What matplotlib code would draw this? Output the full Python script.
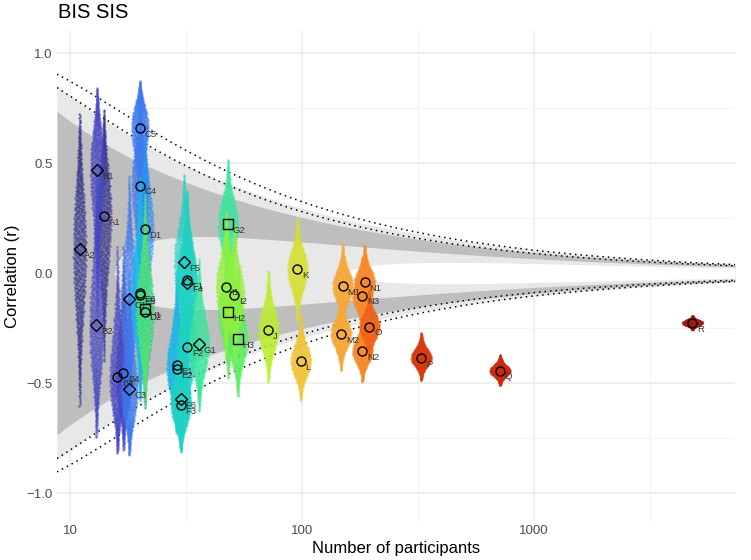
import numpy as np
import matplotlib
matplotlib.use("Agg")
from matplotlib import pyplot as plt
from statistics import NormalDist

plt.rcParams["font.family"] = ["Liberation Sans", "DejaVu Sans"]

# studies: label, number of participants, correlation, marker
labels = ["A1", "A2", "B1", "B2", "B3", "B4", "C1", "C3", "C4", "C5",
          "D1", "D2", "E1", "E2", "E5", "E6", "F1", "F2", "F3", "F4",
          "F5", "F6", "G1", "G2", "H1", "H2", "H3", "I1", "I2", "J",
          "K", "L", "M1", "M2", "N1", "N2", "N3", "O", "P", "Q", "R"]
n_part = [14.0, 11.0, 13.1, 13.0, 16.0, 17.0, 18.0, 18.0, 20.0, 20.0,
          21.0, 21.0, 28.8, 28.8, 20.0, 20.0, 31.9, 31.9, 30.0, 31.9,
          31.0, 30.0, 36.0, 48.0, 21.0, 47.9, 52.8, 47.0, 51.0, 71.6,
          95.5, 98.6, 149.6, 147.0, 186.0, 182.0, 182.0, 195.0, 326.0, 713.0, 4810.0]
r_vals = [0.259, 0.108, 0.468, -0.236, -0.474, -0.456, -0.118, -0.529, 0.397, 0.658,
          0.200, -0.175, -0.418, -0.438, -0.100, -0.090, -0.032, -0.338, -0.600, -0.047,
          0.049, -0.574, -0.324, 0.221, -0.165, -0.176, -0.300, -0.062, -0.100, -0.259,
          0.017, -0.399, -0.058, -0.277, -0.042, -0.355, -0.103, -0.244, -0.385, -0.444, -0.226]
shapes = ["o", "D", "D", "D", "o", "o", "D", "D", "o", "o",
          "o", "o", "o", "o", "o", "o", "o", "o", "o", "D",
          "D", "D", "D", "s", "s", "s", "s", "o", "o", "o",
          "o", "o", "o", "o", "o", "o", "o", "o", "o", "o", "o"]

group_colors = {"A": "#2f2f8c", "B": "#4545c4", "C": "#3d78ee", "D": "#2a92f2",
                "E": "#1fb6e6", "F": "#1fd2c4", "G": "#34e69c", "H": "#5aee5e",
                "I": "#92f03e", "J": "#bbee30", "K": "#d6e032", "L": "#efc53a",
                "M": "#f7a83a", "N": "#f78a28", "O": "#ef6418", "P": "#d83a10",
                "Q": "#cc2c0c", "R": "#a01a10"}


def bf_bound(n, bf01):
    # |r| where Jeffreys' approximate BF01 equals bf01
    s = np.sqrt((2 * n - 3) / np.pi)
    val = 1 - (bf01 / s) ** (2 / (n - 4))
    return np.sqrt(np.clip(val, 0, None))


def r_crit(n, p):
    z = NormalDist().inv_cdf(1 - p / 2)
    v = n - 2
    t = (z + (z**3 + z) / 4 / v + (5*z**5 + 16*z**3 + 3*z) / 96 / v**2
         + (3*z**7 + 19*z**5 + 17*z**3 - 15*z) / 384 / v**3
         + (79*z**9 + 776*z**7 + 1482*z**5 - 1920*z**3 - 945*z) / 92160 / v**4)
    return t / np.sqrt(t**2 + v)


fig = plt.figure(figsize=(7.51, 5.6), dpi=100)
ax = fig.add_axes([0.0759, 0.0696, 0.903, 0.875])
ax.set_xscale("log")
xmin, xmax = 8.79, 7345
ax.set_xlim(xmin, xmax)
ax.set_ylim(-1.127, 1.1)

# evidence regions
nn = np.logspace(np.log10(xmin), np.log10(xmax), 500)
b10_10 = bf_bound(nn, 1 / 10)
b10_3 = bf_bound(nn, 1 / 3)
b01_3 = np.where(np.sqrt((2 * nn - 3) / np.pi) > 3, bf_bound(nn, 3), 0)
b01_10 = np.where(np.sqrt((2 * nn - 3) / np.pi) > 10, bf_bound(nn, 10), 0)
ax.fill_between(nn, -b10_10, b10_10, color="#e8e8e8", lw=0, zorder=1)
ax.fill_between(nn, -b10_3, b10_3, color="#bebebe", lw=0, zorder=1)
ax.fill_between(nn, -b01_3, b01_3, color="#e8e8e8", lw=0, zorder=1)
ax.fill_between(nn, -b01_10, b01_10, color="white", lw=0, zorder=1)
for pv in (0.005, 0.001):
    rc = r_crit(nn, pv)
    for sgn in (1, -1):
        ax.plot(nn, sgn * rc, color="black", ls=(0, (1, 2.6)), lw=1.1, zorder=2)

# sampling distributions as dot clouds
M = 700
p = np.linspace(0.011, 0.989, M)
q = np.array([NormalDist().inv_cdf(v) for v in p])
w = np.exp(-0.75 * q ** 2)
u = 2 * ((np.arange(M) * 0.6180339887) % 1) - 1
for lab, n, r in zip(labels, n_part, r_vals):
    half_px = 6 + 4 * min(1, (np.log10(n) - 1) / 0.5)
    rr = np.tanh(np.arctanh(r) + q / np.sqrt(n - 3))
    ax.scatter(n * 10 ** (half_px * w * u / 232), rr, s=3,
               color=group_colors[lab[0]], alpha=0.6, lw=0, zorder=3)

for lab, n, r, m in zip(labels, n_part, r_vals, shapes):
    ms = 6 if m == "D" else 6.5
    ax.plot(n, r, marker=m, ms=ms, mfc="none", mec="black", mew=1.0, zorder=5)
    ax.annotate(lab, (n, r), xytext=(3.5, -4.5), textcoords="offset points",
                fontsize=6.8, color="#333333", ha="left", va="center", zorder=6)

# theme
ax.set_yticks([-1.0, -0.5, 0.0, 0.5, 1.0])
ax.set_yticks([-0.75, -0.25, 0.25, 0.75], minor=True)
ax.set_xticks([10, 100, 1000])
ax.set_xticks([10 ** 1.5, 10 ** 2.5, 10 ** 3.5], minor=True)
ax.set_xticklabels(["10", "100", "1000"])
ax.xaxis.set_minor_formatter(matplotlib.ticker.NullFormatter())
ax.grid(True, which="major", color="#ebebeb", lw=1.1, zorder=0)
ax.grid(True, which="minor", color="#f2f2f2", lw=0.6, zorder=0)
ax.set_axisbelow(True)
for s in ax.spines.values():
    s.set_visible(False)
ax.tick_params(which="both", length=0, labelsize=9.5, labelcolor="#4d4d4d", pad=3)
ax.set_xlabel("Number of participants", fontsize=12, labelpad=3)
ax.set_ylabel("Correlation (r)", fontsize=12)
ax.yaxis.set_label_coords(-0.054, 0.5)
fig.text(0.0772, 0.978, "BIS SIS", fontsize=14.5, ha="left", va="center")

fig.savefig("out.png", dpi=100)
